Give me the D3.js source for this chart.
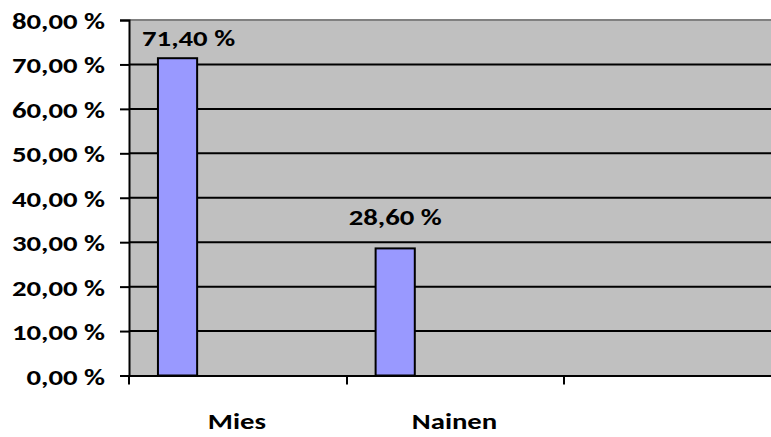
<!DOCTYPE html>
<html>
<head>
<meta charset="utf-8">
<script src="https://cdn.jsdelivr.net/npm/d3@7"></script>
<style>
  html, body { margin: 0; padding: 0; background: #fff; overflow: hidden; }
  svg text { font-family: Carlito, "Open Sans", "DejaVu Sans", sans-serif; font-weight: bold; fill: #000; }
</style>
</head>
<body>
<svg id="chart" width="771" height="437"></svg>
<script>
// Gender breakdown (percent)
const categories = ["Mies", "Nainen", ""];
const values = [71.4, 28.6, null];
const yTicks = [0, 10, 20, 30, 40, 50, 60, 70, 80];

const fmt = v => d3.format(".2f")(v).replace(".", ",") + " %";

const FONT = 23;
const SX = 1.25; // horizontal stretch of the chart's lettering

const svg = d3.select("#chart");
const margin = { left: 129, top: 20, bottom: 375.5 };
const plotRight = 782;

const x = d3.scaleBand().domain(categories).range([margin.left, plotRight]).padding(0);
const y = d3.scaleLinear().domain([0, 80]).range([margin.bottom, margin.top]);

const bw = x.bandwidth();
const barOffset = bw * 0.133;
const barWidth = bw * 0.18;

// place a stretched text element at (px, py) in its parent's coordinates
function stretchAt(sel, px, py) {
  sel.attr("transform", `translate(${px},${py}) scale(${SX},1)`).attr("x", 0).attr("y", 0);
}

// plot background
svg.append("rect")
  .attr("x", margin.left).attr("y", margin.top)
  .attr("width", plotRight - margin.left).attr("height", margin.bottom - margin.top)
  .attr("fill", "#C0C0C0");

// top border
svg.append("line")
  .attr("x1", margin.left).attr("x2", plotRight)
  .attr("y1", margin.top).attr("y2", margin.top)
  .attr("stroke", "#808080").attr("stroke-width", 2);

// gridlines
svg.append("g").selectAll("line")
  .data(yTicks.filter(t => t > 0 && t < 80))
  .join("line")
  .attr("x1", margin.left).attr("x2", plotRight)
  .attr("y1", d => y(d)).attr("y2", d => y(d))
  .attr("stroke", "#000").attr("stroke-width", 2);

// bars
svg.append("g").selectAll("rect")
  .data(categories.map((c, i) => ({ c, v: values[i] })).filter(d => d.v != null))
  .join("rect")
  .attr("x", d => x(d.c) + barOffset)
  .attr("y", d => y(d.v))
  .attr("width", barWidth)
  .attr("height", d => y(0) - y(d.v))
  .attr("fill", "#9999FF")
  .attr("stroke", "#000").attr("stroke-width", 2);

// y axis
const yAxis = svg.append("g")
  .attr("transform", `translate(${margin.left},0)`)
  .call(d3.axisLeft(y).tickValues(yTicks).tickFormat(fmt).tickSizeInner(9).tickSizeOuter(9).tickPadding(15));
yAxis.select(".domain").attr("stroke", "#000").attr("stroke-width", 2);
yAxis.selectAll(".tick line").attr("stroke", "#000").attr("stroke-width", 2);
yAxis.selectAll(".tick text")
  .attr("font-size", FONT).attr("dy", 0)
  .call(stretchAt, -24, 8.5);

// x axis
const xAxis = svg.append("g")
  .attr("transform", `translate(0,${margin.bottom})`)
  .call(d3.axisBottom(x).tickSize(0).tickFormat(d => d));
xAxis.select(".domain").attr("stroke", "#000").attr("stroke-width", 2);
xAxis.selectAll(".tick text")
  .attr("font-size", FONT).attr("dy", 0)
  .call(stretchAt, -1, 53.5);
// category boundary ticks
svg.append("g").selectAll("line")
  .data(categories)
  .join("line")
  .attr("x1", d => Math.round(x(d))).attr("x2", d => Math.round(x(d)))
  .attr("y1", margin.bottom).attr("y2", margin.bottom + 9)
  .attr("stroke", "#000").attr("stroke-width", 2);

// value labels
svg.append("g").selectAll("text")
  .data(categories.map((c, i) => ({ c, v: values[i] })).filter(d => d.v != null))
  .join("text")
  .attr("text-anchor", "middle")
  .attr("font-size", FONT)
  .each(function (d) {
    let ly = y(d.v) - 23.5;
    let lx = x(d.c) + barOffset + barWidth / 2;
    const minY = margin.top + 26;
    if (ly < minY) { ly = minY; lx += 11; }
    d3.select(this).call(stretchAt, lx, ly);
  })
  .text(d => fmt(d.v));
</script>
</body>
</html>
